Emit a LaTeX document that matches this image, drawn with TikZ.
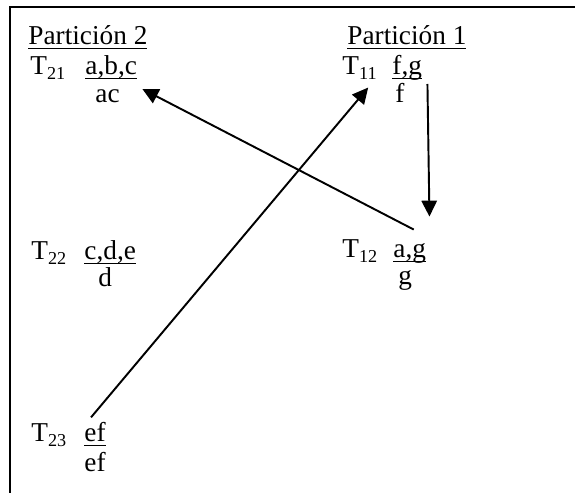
\documentclass[tikz,border=0pt]{standalone}
\usepackage{fontspec}
\setmainfont{Liberation Serif}
\usetikzlibrary{arrows.meta}
\newcommand\ulbl[1]{\underline{\raisebox{0pt}[\height][0pt]{#1}}}

\begin{document}
\begin{tikzpicture}[x=0.44pt, y=-0.44pt, font=\fontsize{12}{14}\selectfont,
  lbl/.style={anchor=base west, inner sep=0pt},
  arr/.style={line width=0.85pt, -{Triangle[length=7pt, width=6.8pt]}}]
  \useasboundingbox (0,0) rectangle (575,493);
  % frame, cut by the page on the right and at the bottom
  \draw[line width=0.8pt] (10,493) -- (10,7) -- (575,7);
  % partition 2
  \node[lbl] (p2) at (28,45) {\ulbl{Partición 2}};
  \node[lbl] (t21) at (30,75) {T\textsubscript{21}};
  \node[lbl] (t21a) at (85,75) {\ulbl{a,b,c}};
  \node[lbl] (t21b) at (95,103) {ac};
  \node[lbl] (t22) at (31,260) {T\textsubscript{22}};
  \node[lbl] (t22a) at (84,260) {\ulbl{c,d,e}};
  \node[lbl] (t22b) at (98,287) {d};
  \node[lbl] (t23) at (31,442) {T\textsubscript{23}};
  \node[lbl] (t23a) at (84,442) {\ulbl{ef}};
  \node[lbl] (t23b) at (84,472) {ef};
  % partition 1
  \node[lbl] (p1) at (347,45) {\ulbl{Partición 1}};
  \node[lbl] (t11) at (342,75) {T\textsubscript{11}};
  \node[lbl] (t11a) at (392,75) {\ulbl{f,g}};
  \node[lbl] (t11b) at (395,103) {f};
  \node[lbl] (t12) at (342,258) {T\textsubscript{12}};
  \node[lbl] (t12a) at (393,258) {\ulbl{a,g}};
  \node[lbl] (t12b) at (398,285) {g};
  % arrows
  \draw[arr] ([shift={(5,4)}]t11a.south east) -- ([shift={(3,-27)}]t12a.north east);
  \draw[arr] ([shift={(4,-14)}]t12a.north) -- ([shift={(5,9)}]t21a.south east);
  \draw[arr] ([shift={(-4,-5)}]t23a.north) -- ([shift={(-10,8)}]t11.south east);
\end{tikzpicture}
\end{document}
